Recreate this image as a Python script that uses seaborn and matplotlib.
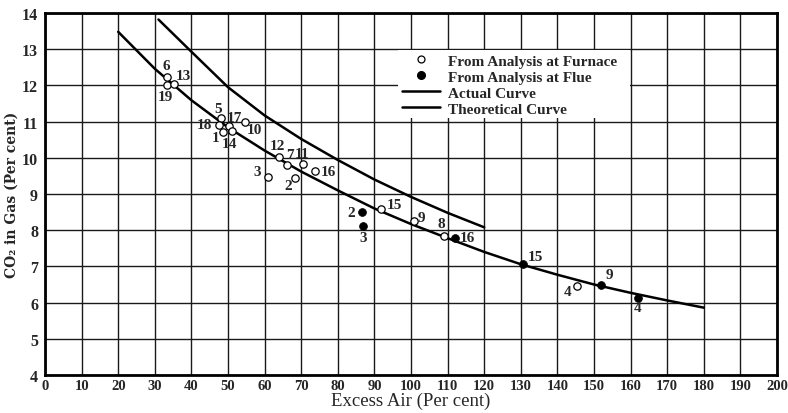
import matplotlib
matplotlib.use("Agg")
import matplotlib.pyplot as plt
import seaborn as sns
import pandas as pd
from matplotlib.lines import Line2D
from matplotlib.patches import Rectangle

# ---- data ----
actual_x = [20, 30, 40, 50, 60, 70, 80, 90, 100, 110, 120, 130, 140, 150, 160, 170, 180]
actual_y = [13.48, 12.46, 11.59, 10.84, 10.2, 9.62, 9.1, 8.6, 8.17, 7.78, 7.4, 7.06, 6.77, 6.5, 6.27, 6.06, 5.86]

theory_x = [31, 40, 50, 60, 70, 80, 90, 100, 110, 120]
theory_y = [13.82, 12.93, 11.95, 11.17, 10.52, 9.94, 9.4, 8.92, 8.48, 8.08]

furnace_labels = ["6", "19", "13", "5", "18", "1", "17", "14", "10", "12", "7", "11", "3", "2", "16", "15", "9", "8", "4"]
furnace_x = [33.2, 33.2, 35.3, 48.2, 47.5, 48.5, 50.2, 51.2, 54.6, 63.9, 66.1, 70.5, 60.9, 68.4, 73.9, 91.9, 100.7, 109.0, 145.3]
furnace_y = [12.22, 12.01, 12.04, 11.09, 10.91, 10.72, 10.88, 10.73, 11.0, 10.03, 9.80, 9.82, 9.48, 9.45, 9.63, 8.59, 8.25, 7.85, 6.47]

flue_labels = ["2", "3", "16", "15", "9", "4"]
flue_x = [86.6, 86.8, 111.9, 130.5, 151.9, 162.0]
flue_y = [8.49, 8.12, 7.78, 7.07, 6.49, 6.13]

x_ticks = list(range(0, 201, 10))
y_ticks = list(range(4, 15))

# label offsets in pixels (dx right, dy down)
furnace_off = [(0, -12), (-1, 11), (9, -8), (-3, -10), (-14, 0), (-7, 6), (6, -8), (-3, 12), (10, 8),
               (-1, -11), (3, -11), (-1, -11), (-11, -5), (-7, 8), (13, 0), (13, -4), (8, -4), (-3, -12), (-9, 6)]
flue_off = [(-11, 0), (0, 12), (13, -1), (13, -7), (8, -10), (0, 10)]

sns.set_theme(style="white")
plt.rcParams["font.family"] = ["Liberation Serif", "DejaVu Serif"]

fig = plt.figure(figsize=(7.88, 4.14), dpi=100)
W, H = 788, 414
ax = fig.add_axes([45 / W, (H - 376) / H, (777 - 45) / W, (376 - 14) / H])

ax.set_xlim(0, 200)
ax.set_ylim(4, 14)
ax.set_xticks(x_ticks)
ax.set_yticks(y_ticks)
ax.grid(True, color="#1a1a1a", linewidth=1.0, zorder=0)
ax.set_axisbelow(True)
for s in ax.spines.values():
    s.set_color("black")
    s.set_linewidth(2.0)
ax.tick_params(axis="y", length=0, pad=5, labelsize=11.5)
ax.tick_params(axis="x", length=0, pad=3, labelsize=10.5)
for lab in ax.get_xticklabels() + ax.get_yticklabels():
    lab.set_fontweight("bold")

# legend background (hides grid)
ax.add_patch(Rectangle((96.5, 11.1), 63.3, 1.87, facecolor="white", edgecolor="none", zorder=1))

curves = pd.concat([
    pd.DataFrame({"x": actual_x, "y": actual_y, "curve": "Actual Curve"}),
    pd.DataFrame({"x": theory_x, "y": theory_y, "curve": "Theoretical Curve"}),
])
sns.lineplot(data=curves, x="x", y="y", units="curve", estimator=None, sort=False,
             color="black", linewidth=1.8, ax=ax, zorder=3)

sns.scatterplot(x=furnace_x, y=furnace_y, ax=ax, marker="o", s=28, facecolor="white",
                edgecolor="black", linewidth=0.9, zorder=4)
sns.scatterplot(x=flue_x, y=flue_y, ax=ax, marker="o", s=32, color="black",
                edgecolor="black", linewidth=0.5, zorder=4)

for lab, x, y, (dx, dy) in zip(furnace_labels, furnace_x, furnace_y, furnace_off):
    ax.annotate(lab, (x, y), xytext=(dx * 0.72, -dy * 0.72), textcoords="offset points",
                ha="center", va="center", fontsize=11, fontweight="bold", zorder=5)
for lab, x, y, (dx, dy) in zip(flue_labels, flue_x, flue_y, flue_off):
    ax.annotate(lab, (x, y), xytext=(dx * 0.72, -dy * 0.72), textcoords="offset points",
                ha="center", va="center", fontsize=11, fontweight="bold", zorder=5)

handles = [
    Line2D([], [], linestyle="none", marker="o", markersize=5, markerfacecolor="white",
           markeredgecolor="black", markeredgewidth=0.9),
    Line2D([], [], linestyle="none", marker="o", markersize=5.5, color="black"),
    Line2D([], [], color="black", linewidth=1.8),
    Line2D([], [], color="black", linewidth=1.8),
]
labels = ["From Analysis at Furnace", "From Analysis at Flue", "Actual Curve", "Theoretical Curve"]
leg = ax.legend(handles, labels, loc="upper left", bbox_to_anchor=((402 - 45) / 732, 1 - (55 - 14) / 362),
                frameon=False, borderpad=0, borderaxespad=0, handlelength=2.5, handletextpad=0.5,
                labelspacing=0.15, prop={"family": ["Liberation Serif"], "weight": "bold", "size": 11})
leg.set_zorder(6)

ax.set_xlabel("Excess Air (Per cent)", fontsize=13.5, labelpad=0)
ax.set_ylabel("CO₂ in Gas (Per cent)", fontsize=10, fontweight="bold",
              family=["DejaVu Serif"], labelpad=2)

fig.savefig("out.png", dpi=100, facecolor="white")
